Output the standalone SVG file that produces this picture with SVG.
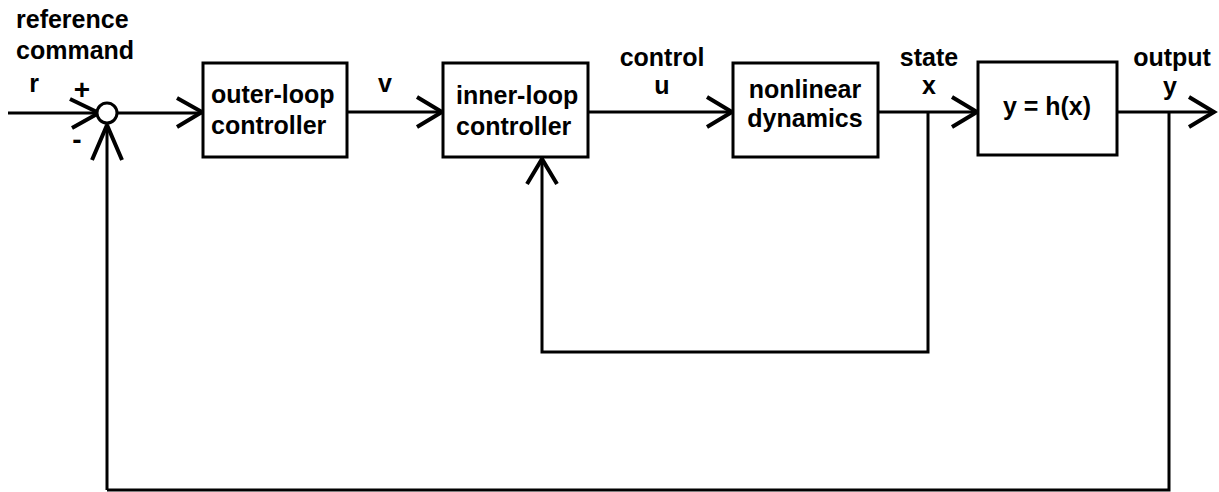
<svg xmlns="http://www.w3.org/2000/svg" width="1219" height="492" viewBox="0 0 1219 492">
<style>
.box{fill:#fff;stroke:#000;stroke-width:3}
.ln{fill:none;stroke:#000;stroke-width:3;stroke-linejoin:miter}
.ah{fill:none;stroke:#000;stroke-width:4;stroke-linecap:butt}
text{font-family:"Liberation Sans",Arial,sans-serif;font-weight:bold;font-size:25px;fill:#000}
.m{text-anchor:middle}
.s{font-size:28px}
</style>
<rect width="1219" height="492" fill="#fff"/>
<g id="connectors">
<path class="ln" d="M8 113H97"/>
<path class="ah" d="M70 99L97 112M72 128L97 114"/>
<path class="ln" d="M107 490V124"/>
<path class="ah" d="M92 160L107 125M122 160L107 125"/>
<path class="ln" d="M117 113H203"/>
<path class="ah" d="M177 98L202 112L177 127"/>
<path class="ln" d="M347 112H443"/>
<path class="ah" d="M417 97L442 112L417 127"/>
<path class="ln" d="M588 112H733"/>
<path class="ah" d="M707 97L732 112L707 127"/>
<path class="ln" d="M878 112H978"/>
<path class="ah" d="M952 97L977 112L952 127"/>
<path class="ln" d="M1117 112H1215"/>
<path class="ah" d="M1189 97L1214 112L1189 127"/>
<path class="ln" d="M928 112V352H542V158"/>
<path class="ah" d="M527 184L542 159L557 184"/>
<path class="ln" d="M1169 112V490H107"/>
</g>
<g id="sum">
<circle cx="107" cy="113" r="10" fill="#fff" stroke="#000" stroke-width="3"/>
<text x="82" y="99" class="m s">+</text>
<text x="77" y="149" class="m s">-</text>
</g>
<g id="labels">
<text x="16" y="28">reference</text>
<text x="16" y="59">command</text>
<text x="34" y="92" class="m">r</text>
<text x="385" y="92" class="m">v</text>
<text x="662" y="66" class="m">control</text>
<text x="662" y="94" class="m">u</text>
<text x="929" y="66" class="m">state</text>
<text x="929" y="94" class="m">x</text>
<text x="1172" y="66" class="m">output</text>
<text x="1170" y="95" class="m">y</text>
</g>
<g id="outer-loop">
<rect class="box" x="203" y="63" width="144" height="94"/>
<text x="211" y="103">outer-loop</text>
<text x="211" y="134">controller</text>
</g>
<g id="inner-loop">
<rect class="box" x="443" y="63" width="145" height="94"/>
<text x="456" y="104">inner-loop</text>
<text x="456" y="135">controller</text>
</g>
<g id="nonlinear">
<rect class="box" x="733" y="63" width="145" height="94"/>
<text x="805" y="98" class="m">nonlinear</text>
<text x="805" y="127" class="m">dynamics</text>
</g>
<g id="output-map">
<rect class="box" x="978" y="62" width="139" height="93"/>
<text x="1047" y="115" class="m">y = h(x)</text>
</g>
</svg>
